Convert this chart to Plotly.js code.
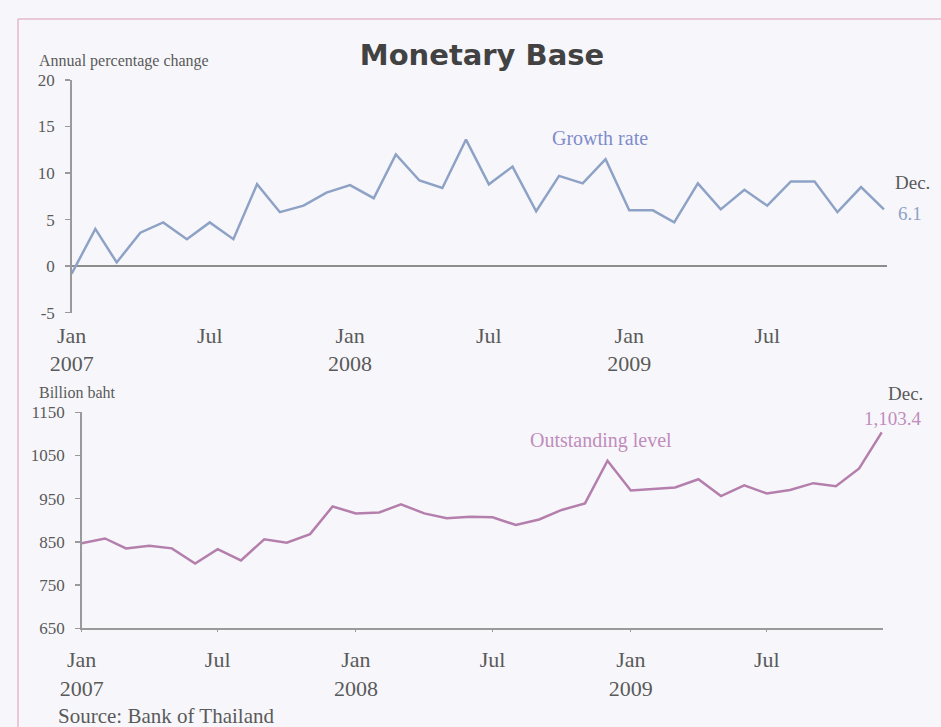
<!DOCTYPE html>
<html>
<head>
<meta charset="utf-8">
<script src="https://cdn.plot.ly/plotly-3.0.1.min.js"></script>
<style>html,body{margin:0;padding:0;background:#f7f7fb;}#chart{width:941px;height:727px;}</style>
</head>
<body>
<div id="chart"></div>
<script>
const months = [
  "2007-01-01","2007-02-01","2007-03-01","2007-04-01","2007-05-01","2007-06-01",
  "2007-07-01","2007-08-01","2007-09-01","2007-10-01","2007-11-01","2007-12-01",
  "2008-01-01","2008-02-01","2008-03-01","2008-04-01","2008-05-01","2008-06-01",
  "2008-07-01","2008-08-01","2008-09-01","2008-10-01","2008-11-01","2008-12-01",
  "2009-01-01","2009-02-01","2009-03-01","2009-04-01","2009-05-01","2009-06-01",
  "2009-07-01","2009-08-01","2009-09-01","2009-10-01","2009-11-01","2009-12-01"
];
const growthRate = [-0.8,4.0,0.4,3.6,4.7,2.9,4.7,2.9,8.8,5.8,6.5,7.9,
                    8.7,7.3,12.0,9.2,8.4,13.6,8.8,10.7,5.9,9.7,8.9,11.5,
                    6.0,6.0,4.7,8.9,6.1,8.2,6.5,9.1,9.1,5.8,8.5,6.1];
const outstandingLevel = [847,858,835,841,835,800,833,807,856,848,868,932,
                          916,918,937,916,905,908,907,889,902,924,939,1038,
                          969,972,976,995,956,981,962,970,986,979,1020,1103.4];
const tickDates = ["2007-01-01","2007-07-01","2008-01-01","2008-07-01","2009-01-01","2009-07-01"];
const tickLabels = ["Jan<br>2007","Jul","Jan<br>2008","Jul","Jan<br>2009","Jul"];
const growthTicks = [-5,0,5,10,15,20];
const growthTickText = ["-5","0","5","10","15","20"];
const levelTicks = [650,750,850,950,1050,1150];
const levelTickText = ["650","750","850","950","1050","1150"];

const W = 941, H = 727;
const px = v => v / W;
const py = v => 1 - v / H;
const serif = "Liberation Serif, Times New Roman, serif";
const blue = "#8ea2c6";
const pink = "#b47fac";
const grayTxt = "#5a5a5a";

const traces = [
  {x: months, y: growthRate, type: "scatter", mode: "lines", xaxis: "x", yaxis: "y",
   line: {color: blue, width: 2.5}, hoverinfo: "x+y"},
  {x: months, y: outstandingLevel, type: "scatter", mode: "lines", xaxis: "x2", yaxis: "y2",
   line: {color: pink, width: 2.5}, hoverinfo: "x+y"}
];

const xCommon = {
  type: "date", tickmode: "array", tickvals: tickDates, ticktext: tickLabels,
  tickfont: {family: serif, size: 22, color: grayTxt}, showgrid: false, zeroline: false
};
const yCommon = {
  tickmode: "array", showgrid: false, showline: true, linecolor: "#9a9a9a", linewidth: 1.5,
  ticks: "outside", ticklen: 5, tickcolor: "#9a9a9a", tickwidth: 1.5,
  tickfont: {family: serif, size: 17, color: grayTxt}, ticklabelstandoff: 7
};

const layout = {
  width: W, height: H, margin: {l: 0, r: 0, t: 0, b: 0},
  paper_bgcolor: "#f7f7fb", plot_bgcolor: "rgba(0,0,0,0)", showlegend: false,
  title: {text: "<b>Monetary Base</b>", x: px(482), xanchor: "center", y: py(55), yanchor: "middle",
          font: {family: "DejaVu Sans, Liberation Sans, sans-serif", size: 29, color: "#424242"}},
  xaxis: Object.assign({}, xCommon, {domain: [px(71.7), px(887)], range: ["2007-01-01","2009-12-05"],
          anchor: "y", showline: false, ticks: "", ticklabelstandoff: 7}),
  yaxis: Object.assign({}, yCommon, {domain: [py(312.7), py(80)], range: [-5, 20],
          tickvals: growthTicks, ticktext: growthTickText,
          anchor: "x", zeroline: true, zerolinecolor: "#8c8c8c", zerolinewidth: 1.5}),
  xaxis2: Object.assign({}, xCommon, {domain: [px(81.7), px(883.2)], range: ["2007-01-01","2009-12-03"],
          anchor: "y2", showline: true, linecolor: "#9a9a9a", linewidth: 1.5, ticks: "outside",
          ticklen: 2, tickcolor: "#9a9a9a", ticklabelstandoff: 9}),
  yaxis2: Object.assign({}, yCommon, {domain: [py(628.3), py(412.3)], range: [650, 1150],
          tickvals: levelTicks, ticktext: levelTickText, anchor: "x2", zeroline: false}),
  shapes: [
    {type: "line", xref: "paper", yref: "paper", x0: px(18), x1: 1, y0: py(19), y1: py(19),
     line: {color: "#e7b9c8", width: 1.5}},
    {type: "line", xref: "paper", yref: "paper", x0: px(18), x1: px(18), y0: py(19), y1: 0,
     line: {color: "#e7b9c8", width: 1.5}}
  ],
  annotations: [
    {text: "Annual percentage change", xref: "paper", yref: "paper", x: px(37), y: py(61),
     xanchor: "left", yanchor: "middle", showarrow: false, font: {family: serif, size: 16, color: grayTxt}},
    {text: "Billion baht", xref: "paper", yref: "paper", x: px(37), y: py(392),
     xanchor: "left", yanchor: "middle", showarrow: false, font: {family: serif, size: 16, color: grayTxt}},
    {text: "Growth rate", xref: "paper", yref: "paper", x: px(600), y: py(138),
     xanchor: "center", yanchor: "middle", showarrow: false, font: {family: serif, size: 20, color: "#7f8ccc"}},
    {text: "Outstanding level", xref: "paper", yref: "paper", x: px(601), y: py(440),
     xanchor: "center", yanchor: "middle", showarrow: false, font: {family: serif, size: 20, color: "#c08cbc"}},
    {text: "Dec.", xref: "paper", yref: "paper", x: px(912), y: py(183),
     xanchor: "center", yanchor: "middle", showarrow: false, font: {family: serif, size: 19, color: grayTxt}},
    {text: "6.1", xref: "paper", yref: "paper", x: px(910), y: py(213),
     xanchor: "center", yanchor: "middle", showarrow: false, font: {family: serif, size: 19, color: "#8ea2c6"}},
    {text: "Dec.", xref: "paper", yref: "paper", x: px(905), y: py(393),
     xanchor: "center", yanchor: "middle", showarrow: false, font: {family: serif, size: 19, color: grayTxt}},
    {text: "1,103.4", xref: "paper", yref: "paper", x: px(893), y: py(418),
     xanchor: "center", yanchor: "middle", showarrow: false, font: {family: serif, size: 19, color: "#c08cbc"}},
    {text: "Source: Bank of Thailand", xref: "paper", yref: "paper", x: px(56), y: py(716),
     xanchor: "left", yanchor: "middle", showarrow: false, font: {family: serif, size: 21, color: grayTxt}}
  ]
};

Plotly.newPlot("chart", traces, layout, {displayModeBar: false, staticPlot: true});
</script>
</body>
</html>
